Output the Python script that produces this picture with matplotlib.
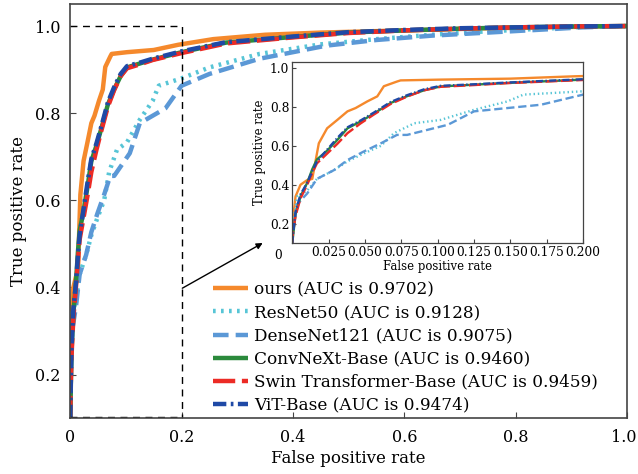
import matplotlib.pyplot as plt
import matplotlib.transforms as mtrans
import numpy as np

plt.rcParams['font.family'] = ['DejaVu Serif']

# ROC points
ours_x = [0, 0.0005, 0.0023, 0.0057, 0.0103, 0.0138, 0.016, 0.0183, 0.024, 0.031, 0.038, 0.0436,
          0.0516, 0.0585, 0.063, 0.072, 0.0745, 0.102, 0.15, 0.194, 0.257, 0.35, 0.45, 0.6, 0.75, 0.9, 1.0]
ours_y = [0.1, 0.22, 0.34, 0.40, 0.424, 0.43, 0.52, 0.613, 0.69, 0.733, 0.777, 0.794,
          0.828, 0.854, 0.906, 0.93, 0.936, 0.94, 0.945, 0.957, 0.97, 0.98, 0.985, 0.99, 0.995, 0.998, 1.0]

res_x = [0, 0.0005, 0.0034, 0.0103, 0.017, 0.0287, 0.038, 0.049, 0.061, 0.070, 0.084, 0.102, 0.125,
         0.148, 0.159, 0.2, 0.25, 0.34, 0.45, 0.55, 0.65, 0.75, 0.85, 0.92, 1.0]
res_y = [0.1, 0.2, 0.34, 0.37, 0.43, 0.475, 0.52, 0.56, 0.6, 0.665, 0.716, 0.733, 0.785,
         0.828, 0.863, 0.88, 0.905, 0.936, 0.958, 0.97, 0.98, 0.988, 0.994, 0.998, 1.0]

dense_x = [0, 0.0005, 0.0034, 0.0103, 0.017, 0.0287, 0.038, 0.049, 0.061, 0.072, 0.079, 0.093, 0.107,
           0.125, 0.148, 0.171, 0.2, 0.25, 0.34, 0.46, 0.55, 0.65, 0.75, 0.85, 0.92, 1.0]
dense_y = [0.1, 0.166, 0.3, 0.355, 0.43, 0.475, 0.527, 0.57, 0.613, 0.656, 0.656, 0.682, 0.708,
           0.777, 0.794, 0.811, 0.863, 0.89, 0.925, 0.955, 0.968, 0.978, 0.985, 0.992, 0.997, 1.0]

conv_x = [0, 0.0005, 0.0023, 0.0057, 0.0103, 0.0138, 0.017, 0.024, 0.031, 0.038, 0.047, 0.056, 0.0677,
          0.079, 0.0906, 0.102, 0.125, 0.148, 0.2, 0.28, 0.4, 0.5, 0.6, 0.7, 0.8, 0.9, 1.0]
conv_y = [0.1, 0.13, 0.25, 0.34, 0.41, 0.48, 0.53, 0.575, 0.63, 0.69, 0.725, 0.765, 0.82,
          0.855, 0.885, 0.905, 0.914, 0.923, 0.94, 0.962, 0.975, 0.985, 0.99, 0.994, 0.997, 0.999, 1.0]

swin_x = [0, 0.0005, 0.0023, 0.0057, 0.0103, 0.0138, 0.017, 0.024, 0.031, 0.038, 0.047, 0.056, 0.0677,
          0.079, 0.0906, 0.102, 0.125, 0.148, 0.2, 0.28, 0.4, 0.5, 0.6, 0.7, 0.8, 0.9, 1.0]
swin_y = [0.1, 0.15, 0.24, 0.33, 0.40, 0.46, 0.51, 0.56, 0.61, 0.665, 0.715, 0.76, 0.815,
          0.853, 0.885, 0.903, 0.912, 0.922, 0.938, 0.96, 0.974, 0.984, 0.99, 0.994, 0.997, 0.999, 1.0]

vit_x = [0, 0.0005, 0.0023, 0.0057, 0.0103, 0.0138, 0.017, 0.024, 0.031, 0.038, 0.047, 0.056, 0.0677,
         0.079, 0.0906, 0.102, 0.125, 0.148, 0.2, 0.28, 0.4, 0.5, 0.6, 0.7, 0.8, 0.9, 1.0]
vit_y = [0.1, 0.14, 0.26, 0.35, 0.41, 0.47, 0.52, 0.58, 0.64, 0.695, 0.73, 0.77, 0.825,
         0.86, 0.89, 0.908, 0.916, 0.925, 0.942, 0.963, 0.976, 0.986, 0.991, 0.995, 0.997, 0.999, 1.0]

labels = ['ours (AUC is 0.9702)', 'ResNet50 (AUC is 0.9128)', 'DenseNet121 (AUC is 0.9075)',
          'ConvNeXt-Base (AUC is 0.9460)', 'Swin Transformer-Base (AUC is 0.9459)', 'ViT-Base (AUC is 0.9474)']

curves = [
    (ours_x, ours_y, '#f5892c', (0, ())),
    (res_x, res_y, '#57c5d6', (0, (0.6, 1.2))),
    (dense_x, dense_y, '#5b98d6', (0, (3.5, 1.6))),
    (conv_x, conv_y, '#2b8a3c', (0, ())),
    (swin_x, swin_y, '#ec2b25', (0, (5, 1.5))),
    (vit_x, vit_y, '#1f49a6', (0, (3, 1, 0.6, 1))),
]

fig = plt.figure(figsize=(6.38, 4.74), dpi=100)
ax = fig.add_axes([0.110, 0.118, 0.873, 0.873])

for (x, y, c, ls), lab in zip(curves, labels):
    ax.plot(x, y, color=c, linestyle=ls, linewidth=3.2, label=lab)

# dashed zoom box
ax.plot([0, 0.2, 0.2], [1.0, 1.0, 0.1], color='black', linestyle=(0, (5, 4)), linewidth=1.0)
ax.plot([0, 0.2], [0.103, 0.103], color='black', linestyle=(0, (5, 4)), linewidth=1.0)

ax.set_xlim(0, 1.0)
ax.set_ylim(0.1, 1.05)
ax.set_xticks([0, 0.2, 0.4, 0.6, 0.8, 1.0])
ax.set_xticklabels(['0', '0.2', '0.4', '0.6', '0.8', '1.0'])
ax.set_yticks([0.2, 0.4, 0.6, 0.8, 1.0])
ax.tick_params(direction='in', labelsize=11.5, length=4, color='#444444')
ax.tick_params(axis='x', pad=8)
ax.tick_params(axis='y', pad=7)
last = ax.get_xticklabels()[-1]
last.set_transform(last.get_transform() + mtrans.ScaledTranslation(-3 / 100, 0, fig.dpi_scale_trans))
ax.set_xlabel('False positive rate', fontsize=12, labelpad=3)
ax.set_ylabel('True positive rate', fontsize=12, labelpad=6)
for s in ax.spines.values():
    s.set_color('#444444')
    s.set_linewidth(1.2)

ax.legend(loc='lower left', bbox_to_anchor=(0.241, -0.01), frameon=False, fontsize=12.2,
          handlelength=2.1, handletextpad=0.35, labelspacing=0.36, borderpad=0.0)

ax.annotate('', xy=(0.350, 0.505), xytext=(0.197, 0.395),
            arrowprops=dict(arrowstyle='-|>', color='black', lw=1.0, mutation_scale=9))

# inset
ins = fig.add_axes([0.458, 0.487, 0.456, 0.382])
for x, y, c, ls in curves:
    ins.plot(x, y, color=c, linestyle=ls, linewidth=1.7)
ins.set_xlim(0, 0.2)
ins.set_ylim(0.1, 1.03)
ins.set_xticks([0.025, 0.05, 0.075, 0.1, 0.125, 0.15, 0.175, 0.2])
ins.set_xticklabels(['0.025', '0.050', '0.075', '0.100', '0.125', '0.150', '0.175', '0.200'])
ins.set_yticks([0.2, 0.4, 0.6, 0.8, 1.0])
ins.tick_params(direction='in', labelsize=8.8, length=3, color='#444444', pad=2)
ins.text(-0.05, -0.035, '0', transform=ins.transAxes, fontsize=8.8, ha='center', va='top')
ins.set_xlabel('False positive rate', fontsize=8.4, labelpad=1)
ins.set_ylabel('True positive rate', fontsize=8.4, labelpad=3)
for s in ins.spines.values():
    s.set_color('#444444')
    s.set_linewidth(0.9)

fig.savefig('out.png', dpi=100)
